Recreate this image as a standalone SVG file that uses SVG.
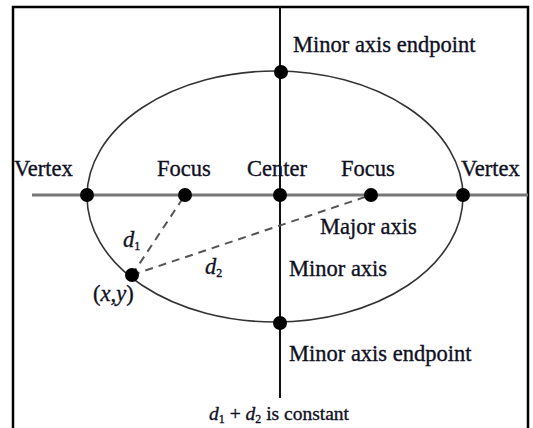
<svg xmlns="http://www.w3.org/2000/svg" width="533" height="428" viewBox="0 0 533 428">
<style>
.t{font-family:"Liberation Serif","Times New Roman",serif;font-size:22.5px;fill:#10101f;stroke:#10101f;stroke-width:0.35}
.i{font-style:italic}
.s{font-size:12px}
.dot{fill:#000}
.dash{stroke:#555;stroke-width:2;stroke-dasharray:8,6;fill:none}
</style>
<rect x="0" y="0" width="533" height="428" fill="#fff"/>
<path d="M13,430 V7 H528 V430" fill="none" stroke="#000" stroke-width="2.5"/>
<g id="connectors">
<ellipse cx="275" cy="196.5" rx="188" ry="125.5" fill="none" stroke="#333" stroke-width="1.6"/>
<line x1="32" y1="195" x2="528" y2="195" stroke="#777" stroke-width="3"/>
<line x1="280" y1="7" x2="280" y2="398" stroke="#111" stroke-width="2"/>
<line class="dash" x1="132" y1="275" x2="185" y2="195"/>
<line class="dash" x1="132" y1="275" x2="371" y2="195"/>
</g>
<g id="top-endpoint"><circle class="dot" cx="281" cy="72" r="7"/><text class="t" x="293" y="52">Minor axis endpoint</text></g>
<g id="left-vertex"><circle class="dot" cx="87" cy="195" r="7"/><text class="t" x="14" y="176">Vertex</text></g>
<g id="left-focus"><circle class="dot" cx="185" cy="195" r="7"/><text class="t" x="157" y="176">Focus</text></g>
<g id="center"><circle class="dot" cx="280" cy="195" r="7"/><text class="t" x="247" y="176">Center</text></g>
<g id="right-focus"><circle class="dot" cx="371" cy="195" r="7"/><text class="t" x="341" y="176">Focus</text></g>
<g id="right-vertex"><circle class="dot" cx="463" cy="195" r="7"/><text class="t" x="461" y="176">Vertex</text></g>
<g id="point"><circle class="dot" cx="132" cy="275" r="7"/><text class="t" x="93" y="301"><tspan>(</tspan><tspan class="i">x</tspan><tspan>,</tspan><tspan class="i">y</tspan><tspan>)</tspan></text></g>
<g id="bottom-endpoint"><circle class="dot" cx="280" cy="323" r="7"/><text class="t" x="289" y="361">Minor axis endpoint</text></g>
<g id="labels">
<text class="t" x="320" y="234">Major axis</text>
<text class="t" x="289" y="276">Minor axis</text>
<text class="t" x="123" y="247"><tspan class="i">d</tspan><tspan class="s" dy="3">1</tspan></text>
<text class="t" x="205" y="274"><tspan class="i">d</tspan><tspan class="s" dy="3">2</tspan></text>
<text class="t" x="209" y="420" style="font-size:19.5px"><tspan class="i">d</tspan><tspan class="s" dy="3">1</tspan><tspan dy="-3"> + </tspan><tspan class="i">d</tspan><tspan class="s" dy="3">2</tspan><tspan dy="-3"> is constant</tspan></text>
</g>
</svg>
